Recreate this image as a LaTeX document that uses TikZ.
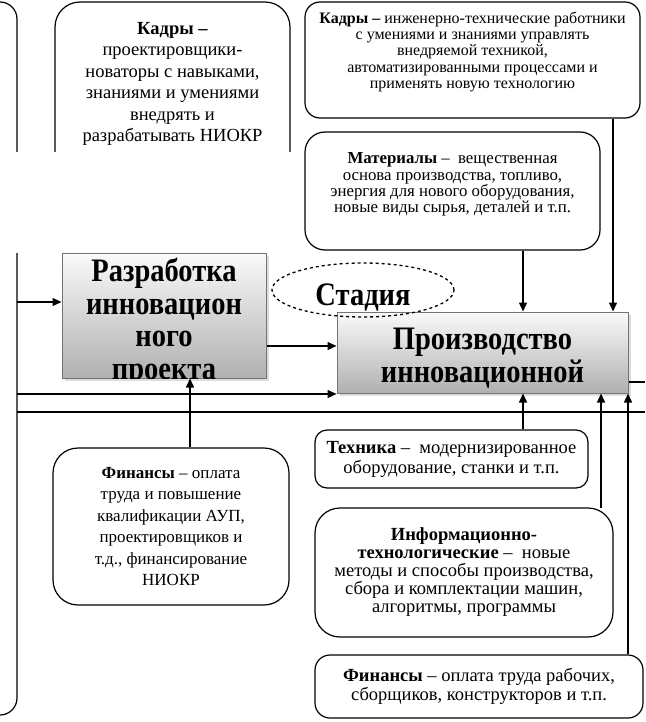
\documentclass[tikz,border=0pt]{standalone}
\usepackage{fontspec}
\setmainfont{Liberation Serif}
\usetikzlibrary{arrows.meta,shadows,shapes.geometric}
\begin{document}
\begin{tikzpicture}[x=1pt,y=1pt,
  rbox/.style={draw, line width=1.2pt, rounded corners=#1, inner sep=0pt},
  conn/.style={line width=1.4pt},
  arr/.style={conn, -{Triangle[length=9pt,width=8pt]}},
  txt/.style={align=center, inner sep=0pt},
  gbox/.style={draw=gray!90!black, line width=1pt, top color=gray!4, bottom color=gray!62,
     drop shadow={shadow xshift=3pt, shadow yshift=-3pt, fill=gray!45, opacity=0.6}},
  big/.style={font=\fontsize{28.5}{28.3}\selectfont\bfseries, yscale=1.15, transform shape}]
\useasboundingbox (0,0) rectangle (645,-722);

% left partial box
\draw[line width=1.2pt] (-20,-2) -- (0,-2) arc[start angle=90,end angle=0,radius=17] -- (17,-152);
\draw[line width=1.2pt] (17,-253) -- (17,-698) arc[start angle=0,end angle=-90,radius=17] -- (-20,-715);
\coordinate (L1) at (17,-302);
\coordinate (L2) at (17,-394);
\coordinate (L3) at (17,-412);
\coordinate (R3) at (645,-412);
\coordinate (R1) at (645,-382);

% top-left Kadry partial box
\draw[line width=1.2pt] (55,-152) -- (55,-27) arc[start angle=180,end angle=90,radius=25] -- (265,-2) arc[start angle=90,end angle=0,radius=25] -- (290,-152);
\node[txt, font=\fontsize{18.5}{21.5}\selectfont] (kadry1) at (172.5,-84) {\textbf{Кадры –}\\проектировщики-\\новаторы с навыками,\\знаниями и умениями\\внедрять и\\разрабатывать НИОКР};

% top-right Kadry
\node[rbox=15pt, minimum width=335pt, minimum height=116pt] (kadry2) at (472.5,-60) {};
\node[txt, font=\fontsize{16}{16.3}\selectfont] (kadry2t) at (472.5,-52)
 {\textbf{Кадры –} инженерно-технические работники\\с умениями и знаниями управлять\\внедряемой техникой,\\автоматизированными процессами и\\применять новую технологию};

% Materialy
\node[rbox=20pt, minimum width=295pt, minimum height=118pt] (mat) at (452.5,-191) {};
\node[txt, font=\fontsize{16.8}{16.4}\selectfont] (matt) at (452.5,-184.5)
 {\textbf{Материалы} –\ \ вещественная\\основа производства, топливо,\\энергия для нового оборудования,\\новые виды сырья, деталей и т.п.};

% Razrabotka
\node[gbox, minimum width=204pt, minimum height=125pt] (razr) at (164,-315.5) {};
\begin{scope}
\clip (62,-253) rectangle (266,-378);
\node[txt, big, anchor=north] (razrt) at (164,-258) {Разработка\\инновацион\\ного\\проекта};
\end{scope}

% Proizvodstvo
\node[gbox, minimum width=291pt, minimum height=81pt] (proiz) at (482.5,-352.5) {};
\begin{scope}
\clip (337,-312) rectangle (628,-393);
\node[txt, big, anchor=north] (proizt) at (482.5,-328) {Производство\\инновационной};
\end{scope}

% Stadiya
\node[draw, dashed, ellipse, line width=1.3pt, minimum width=182pt, minimum height=54pt, inner sep=0pt] (stad) at (363,-290) {};
\node[txt, big, anchor=base] (stadt) at (363,-305) {Стадия};

% Finansy left
\node[rbox=25pt, minimum width=236pt, minimum height=157pt, align=center, font=\fontsize{17}{21.5}\selectfont] (fin1) at (171,-526.5)
 {\textbf{Финансы} – оплата\\труда и повышение\\квалификации АУП,\\проектировщиков и\\т.д., финансирование\\НИОКР};

% Tekhnika
\node[rbox=12pt, minimum width=273pt, minimum height=58pt, align=center, font=\fontsize{18.5}{20}\selectfont] (tech) at (451.5,-459)
 {\textbf{Техника} –\ \ модернизированное\\оборудование, станки и т.п.};

% Info
\node[rbox=25pt, minimum width=298pt, minimum height=129pt, align=center, font=\fontsize{18.5}{18}\selectfont] (info) at (464,-572.5)
 {\textbf{Информационно-}\\\textbf{технологические} –\ \ новые\\методы и способы производства,\\сбора и комплектации машин,\\алгоритмы, программы};

% Finansy right
\node[rbox=15pt, minimum width=328pt, minimum height=63pt, align=center, font=\fontsize{18.5}{19}\selectfont] (fin2) at (479,-686.5)
 {\textbf{Финансы} – оплата труда рабочих,\\сборщиков, конструкторов и т.п.};

% connectors
\draw[arr] (L1) -- (razr.west |- L1);
\draw[arr] (razr.east |- 0,-346) -- (proiz.west |- 0,-346);
\draw[arr] (L2) -- (proiz.west |- L2);
\draw[conn] (L3) -- (R3);
\draw[arr] (fin1.north -| 190,0) -- (razr.south -| 190,0);
\draw[arr] (mat.south -| 523,0) -- (proiz.north -| 523,0);
\draw[arr] (kadry2.south -| 613,0) -- (proiz.north -| 613,0);
\draw[arr] (tech.north -| 523,0) -- (proiz.south -| 523,0);
\draw[arr] (601,-508) -- (proiz.south -| 601,0);
\draw[arr] (fin2.north -| 628,0) -- (proiz.south -| 628,0);
\draw[conn] (proiz.east |- R1) -- (R1);
\end{tikzpicture}
\end{document}
